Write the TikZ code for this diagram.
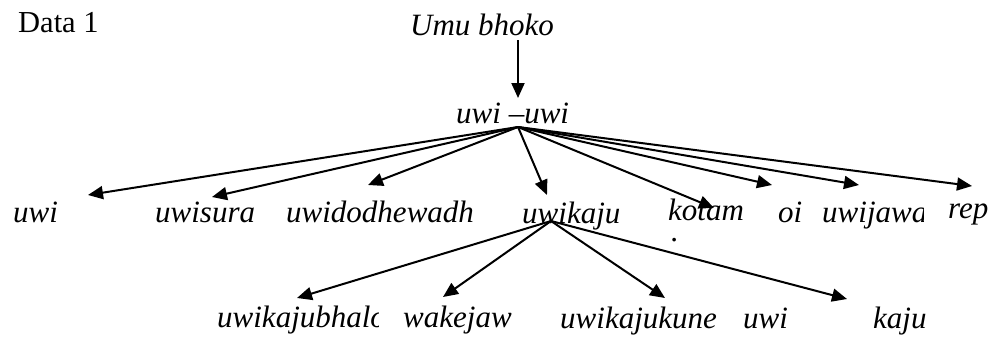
\documentclass[tikz,border=0pt]{standalone}
\usepackage{fontspec}
\setmainfont{Liberation Serif}
\usetikzlibrary{arrows.meta}
\begin{document}
\begin{tikzpicture}[x=1pt,y=1pt,
  lbl/.style={inner sep=0pt,anchor=base west,font=\fontsize{31}{31}\selectfont\itshape},
  conn/.style={line width=2pt,-{Triangle[length=15pt,width=13pt]}}]
\useasboundingbox (0,0) rectangle (991,-338);

% heading and root
\node[lbl,font=\fontsize{30.5}{30.5}\selectfont] (title) at (18,-32) {Data 1};
\node[lbl] (root) at (410,-35) {Umu bhoko};
\node[lbl] (stem) at (456,-123) {uwi --uwi};

% first level words
\node[lbl] (w1) at (13,-222) {uwi};
\node[lbl] (w2) at (155,-222) {uwisura};
\node[lbl] (w3) at (286,-222) {uwidodhewadh};
\node[lbl] (w4) at (522,-223) {uwikaju};
\node[lbl] (w5) at (668,-220) {kotam};
\node[lbl] (w5dot) at (671,-241) {.};
\node[lbl] (w6) at (778,-222) {oi};
\begin{scope}
  \clip (800,-180) rectangle (923,-240);
  \node[lbl] (w7) at (822,-222) {uwijawa};
\end{scope}
\node[lbl] (w8) at (948,-218) {rep};

% second level words
\begin{scope}
  \clip (200,-290) rectangle (378,-338);
  \node[lbl] (v1) at (217,-327) {uwikajubhalo};
\end{scope}
\node[lbl] (v2) at (403,-327) {wakejaw};
\node[lbl] (v3) at (560,-328) {uwikajukune};
\node[lbl] (v4) at (743,-328) {uwi};
\node[lbl] (v5) at (873,-328) {kaju};

% arrow ends
\coordinate (rootfoot) at (518,-40);
\coordinate (stemtop) at (518,-98);
\coordinate (hub) at (518,-127);
\coordinate (t1) at (88,-195);
\coordinate (t2) at (212,-197);
\coordinate (t3) at (368,-185);
\coordinate (t4) at (547,-195);
\coordinate (t5) at (714,-208);
\coordinate (t6) at (772,-185);
\coordinate (t7) at (859,-185);
\coordinate (t8) at (972,-186);
\coordinate (sub) at (551,-221);
\coordinate (s1) at (297,-298);
\coordinate (s2) at (443,-297);
\coordinate (s3) at (665,-298);
\coordinate (s4) at (847,-299);

% connectors
\draw[conn] (rootfoot) -- (stemtop);
\foreach \t in {t1,t2,t3,t4,t5,t6,t7,t8} \draw[conn] (hub) -- (\t);
\foreach \s in {s1,s2,s3,s4} \draw[conn] (sub) -- (\s);
\end{tikzpicture}
\end{document}
